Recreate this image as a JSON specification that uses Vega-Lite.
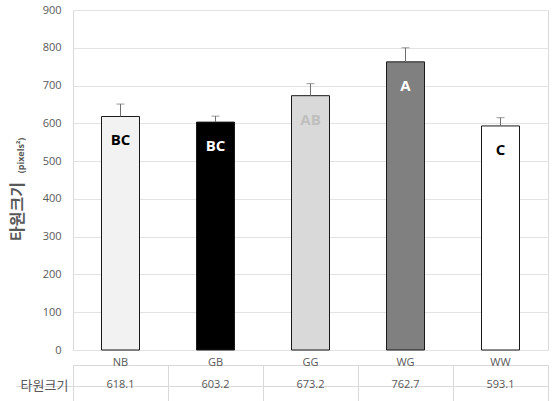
{
  "$schema": "https://vega.github.io/schema/vega-lite/v6.json",
  "background": "white",
  "padding": {"left": 8, "top": 3, "right": 8, "bottom": 5},
  "config": {"view": {"stroke": "#d9d9d9"}, "font": "Open Sans", "concat": {"spacing": 0}},
  "datasets": {
    "d": [
      {"cat": "NB", "value": 618.1, "hi": 651, "label": "BC"},
      {"cat": "GB", "value": 603.2, "hi": 619, "label": "BC"},
      {"cat": "GG", "value": 673.2, "hi": 705, "label": "AB"},
      {"cat": "WG", "value": 762.7, "hi": 800, "label": "A"},
      {"cat": "WW", "value": 593.1, "hi": 615, "label": "C"}
    ]
  },
  "vconcat": [
    {
      "width": 475,
      "height": 340,
      "data": {"name": "d"},
      "layer": [
        {
          "mark": {"type": "bar", "stroke": "#1a1a1a", "strokeWidth": 1, "width": {"band": 0.4}},
          "encoding": {
            "x": {"field": "cat", "type": "nominal", "sort": null, "scale": {"type": "band", "paddingInner": 0, "paddingOuter": 0}, "axis": null},
            "y": {
              "field": "value", "type": "quantitative",
              "scale": {"domain": [0, 900], "nice": false},
              "axis": {
                "orient": "left",
                "values": [0, 100, 200, 300, 400, 500, 600, 700, 800, 900],
                "ticks": false, "domain": false,
                "gridColor": "#e3e3e3",
                "labelFontSize": 11, "labelColor": "#595959", "labelPadding": 12,
                "title": "타원크기", "titleFont": "Noto Sans CJK KR", "titleFontSize": 16, "titleFontWeight": "bold",
                "titleColor": "#595959", "titleBaseline": "middle", "titleX": -56, "titleY": 201
              }
            },
            "fill": {
              "field": "cat", "type": "nominal", "sort": null,
              "scale": {"domain": ["NB", "GB", "GG", "WG", "WW"], "range": ["#f2f2f2", "#000000", "#d9d9d9", "#808080", "#ffffff"]},
              "legend": null
            }
          }
        },
        {
          "mark": {"type": "rule", "color": "#6e6e6e", "strokeWidth": 1},
          "encoding": {
            "x": {"field": "cat", "type": "nominal", "sort": null},
            "y": {
              "field": "value", "type": "quantitative",
              "axis": {
                "orient": "left", "labels": false, "ticks": false, "domain": false, "grid": false,
                "title": "(pixels²)", "titleFont": "Open Sans", "titleFontSize": 9, "titleFontWeight": "bold",
                "titleColor": "#595959", "titleBaseline": "middle", "titleX": -53, "titleY": 145
              }
            },
            "y2": {"field": "hi"}
          }
        },
        {
          "mark": {"type": "tick", "color": "#6e6e6e", "size": 8, "thickness": 1, "orient": "horizontal"},
          "encoding": {
            "x": {"field": "cat", "type": "nominal", "sort": null},
            "y": {"field": "hi", "type": "quantitative", "axis": null}
          }
        },
        {
          "mark": {"type": "text", "fontSize": 15, "fontWeight": "bold", "dy": 24, "font": "Open Sans", "baseline": "middle"},
          "encoding": {
            "x": {"field": "cat", "type": "nominal", "sort": null},
            "y": {"field": "value", "type": "quantitative", "axis": null},
            "text": {"field": "label"},
            "color": {
              "field": "cat", "type": "nominal", "sort": null,
              "scale": {"domain": ["NB", "GB", "GG", "WG", "WW"], "range": ["#000000", "#ffffff", "#bfbfbf", "#ffffff", "#000000"]},
              "legend": null
            }
          }
        }
      ],
      "resolve": {"axis": {"y": "independent"}}
    },
    {
      "width": 475,
      "height": 43,
      "data": {"name": "d"},
      "encoding": {
        "x": {
          "field": "cat", "type": "nominal", "sort": null,
          "scale": {"type": "band", "paddingInner": 0, "paddingOuter": 0},
          "axis": {"labels": false, "ticks": false, "domain": false, "grid": true, "bandPosition": 0, "gridColor": "#d9d9d9", "title": null}
        }
      },
      "layer": [
        {
          "mark": {"type": "text", "fontSize": 11, "color": "#595959", "font": "Open Sans", "baseline": "middle", "dy": -13},
          "encoding": {
            "y": {
              "datum": "c", "type": "nominal",
              "scale": {"type": "band", "domain": ["c", "타원크기"], "paddingInner": 0, "paddingOuter": 0},
              "axis": {
                "title": null, "bandPosition": 1, "ticks": true, "tickSize": 57, "tickColor": "#d9d9d9",
                "domain": false, "grid": true, "gridColor": "#d9d9d9",
                "labelExpr": "datum.value == 'c' ? '' : datum.value",
                "labelPadding": -28, "labelAlign": "center", "labelOffset": -11,
                "labelFontSize": 13, "labelColor": "#595959", "labelFont": "Noto Sans CJK KR"
              }
            },
            "text": {"field": "cat"}
          }
        },
        {
          "mark": {"type": "text", "fontSize": 11, "color": "#595959", "font": "Open Sans", "baseline": "middle", "dy": -12},
          "encoding": {
            "y": {"datum": "타원크기", "type": "nominal"},
            "text": {"field": "value", "type": "quantitative", "format": ".1f"}
          }
        }
      ]
    }
  ]
}
